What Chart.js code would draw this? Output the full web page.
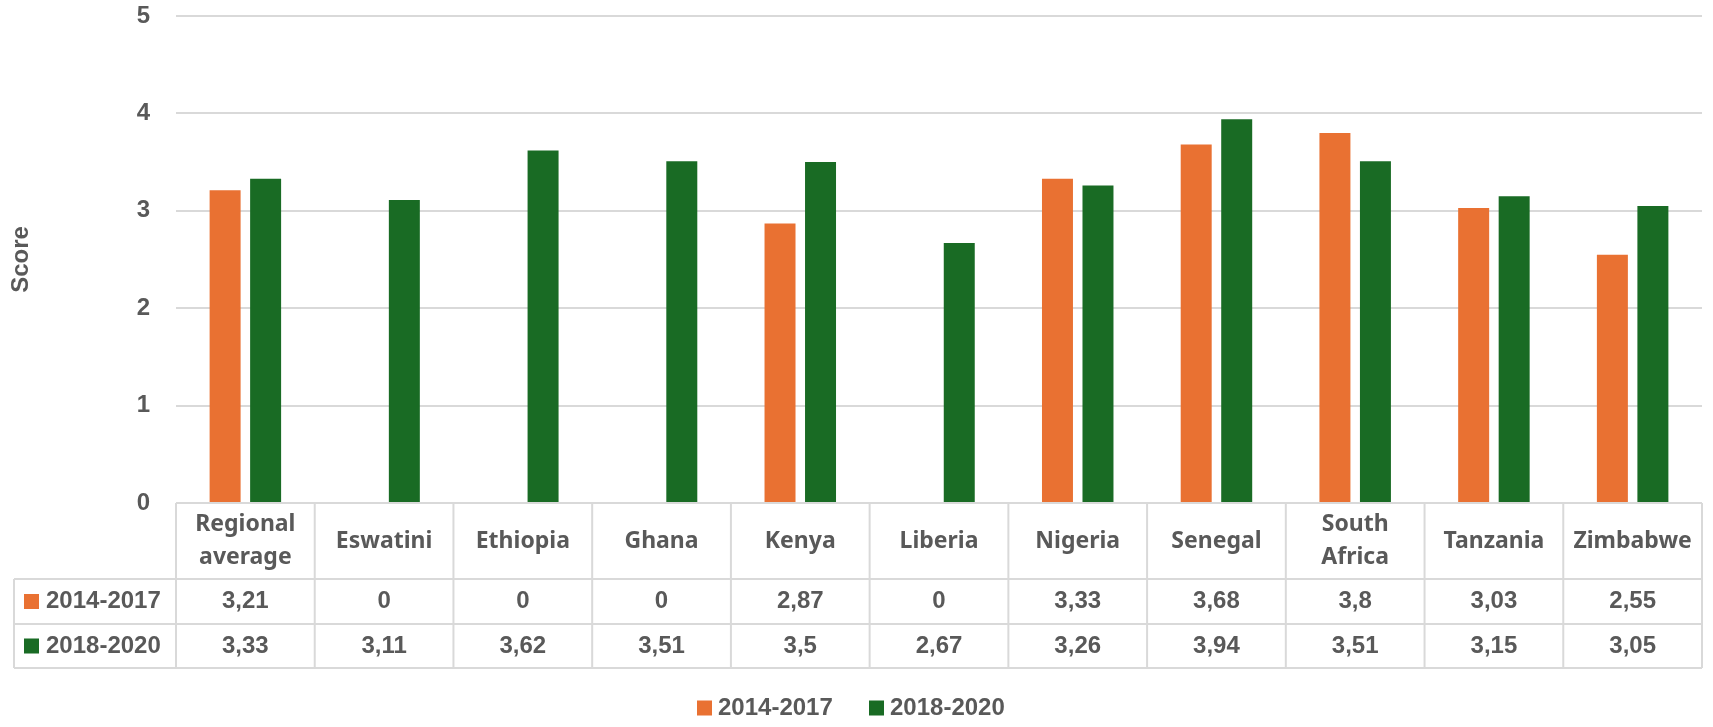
<!DOCTYPE html>
<html>
<head>
<meta charset="utf-8">
<script src="https://cdn.jsdelivr.net/npm/chart.js@4.4.1/dist/chart.umd.min.js"></script>
<style>
    body { margin: 0; background: #fff; }
    #chart { display: block; }
</style>
</head>
<body>
<canvas id="chart" width="1713" height="727"></canvas>
<script>
const categories = [['Regional', 'average'], 'Eswatini', 'Ethiopia', 'Ghana', 'Kenya', 'Liberia',
    'Nigeria', 'Senegal', ['South', 'Africa'], 'Tanzania', 'Zimbabwe'];
const seriesNames = ['2014-2017', '2018-2020'];
const values2014 = [3.21, 0, 0, 0, 2.87, 0, 3.33, 3.68, 3.8, 3.03, 2.55];
const values2018 = [3.33, 3.11, 3.62, 3.51, 3.5, 2.67, 3.26, 3.94, 3.51, 3.15, 3.05];
const yMin = 0;
const yMax = 5;
const yStep = 1;
const yTitle = 'Score';

const orange = '#E97132';
const green = '#196B24';
const textGray = '#595959';
const lineGray = '#D9D9D9';

function fmt(v) {
    return String(v).replace('.', ',');
}

// table under the plot + legend, drawn from the x scale
const tablePlugin = {
    id: 'dataTable',
    afterDraw(chart) {
        const ctx = chart.ctx;
        const x = chart.scales.x;
        const area = chart.chartArea;
        const colW = (area.right - area.left) / categories.length;
        const top = area.bottom;
        const headerBottom = top + 76;
        const row1Bottom = headerBottom + 45;
        const row2Bottom = row1Bottom + 44;
        const labelLeft = 14;
        const rows = [values2014, values2018];
        const colors = [orange, green];

        ctx.save();
        ctx.strokeStyle = lineGray;
        ctx.lineWidth = 2;
        ctx.beginPath();
        // horizontal lines
        ctx.moveTo(area.left, top); ctx.lineTo(area.right, top);
        [headerBottom, row1Bottom, row2Bottom].forEach(y => {
            ctx.moveTo(labelLeft, y); ctx.lineTo(area.right, y);
        });
        // vertical lines
        for (let i = 0; i <= categories.length; i++) {
            const xx = area.left + i * colW;
            ctx.moveTo(xx, top); ctx.lineTo(xx, row2Bottom);
        }
        ctx.moveTo(labelLeft, headerBottom); ctx.lineTo(labelLeft, row2Bottom);
        ctx.stroke();

        ctx.fillStyle = textGray;
        ctx.textAlign = 'center';
        ctx.textBaseline = 'middle';

        // header row with category names
        ctx.font = 'bold 23px "Noto Sans"';
        const headerMid = (top + headerBottom) / 2;
        categories.forEach((c, i) => {
            const cx = x.getPixelForValue(i);
            const lines = Array.isArray(c) ? c : [c];
            lines.forEach((l, j) => {
                const y = headerMid + (j - (lines.length - 1) / 2) * 33;
                ctx.fillText(l, cx, y);
            });
        });

        // value rows
        const rowMids = [(headerBottom + row1Bottom) / 2, (row1Bottom + row2Bottom) / 2];
        ctx.font = 'bold 24px "Liberation Sans"';
        rows.forEach((vals, r) => {
            vals.forEach((v, i) => {
                ctx.fillText(fmt(v), x.getPixelForValue(i), rowMids[r]);
            });
            ctx.fillStyle = colors[r];
            ctx.fillRect(24, rowMids[r] - 7.5, 15, 15);
            ctx.fillStyle = textGray;
            ctx.textAlign = 'left';
            ctx.fillText(seriesNames[r], 46, rowMids[r]);
            ctx.textAlign = 'center';
        });

        // legend
        const legY = 708;
        const legX = [697, 869];
        ctx.textAlign = 'left';
        seriesNames.forEach((name, r) => {
            ctx.fillStyle = colors[r];
            ctx.fillRect(legX[r], legY - 7.5, 15, 15);
            ctx.fillStyle = textGray;
            ctx.fillText(name, legX[r] + 21, legY);
        });
        ctx.restore();
    }
};

new Chart(document.getElementById('chart'), {
    type: 'bar',
    data: {
        labels: categories,
        datasets: [{
            label: seriesNames[0],
            data: values2014,
            backgroundColor: orange,
            borderWidth: 0,
            categoryPercentage: 0.584,
            barPercentage: 0.765
        }, {
            label: seriesNames[1],
            data: values2018,
            backgroundColor: green,
            borderWidth: 0,
            categoryPercentage: 0.584,
            barPercentage: 0.765
        }]
    },
    options: {
        responsive: false,
        devicePixelRatio: 1,
        animation: false,
        layout: {
            padding: { top: 16, right: 11, bottom: 224, left: 0 }
        },
        plugins: {
            legend: { display: false },
            tooltip: { enabled: false }
        },
        scales: {
            x: {
                display: false
            },
            y: {
                min: yMin,
                max: yMax,
                border: { display: false },
                grid: {
                    color: lineGray,
                    lineWidth: 2,
                    drawTicks: false
                },
                ticks: {
                    stepSize: yStep,
                    color: textGray,
                    padding: 26,
                    font: { family: 'Liberation Sans', size: 24, weight: 'bold' }
                },
                title: {
                    display: true,
                    text: yTitle,
                    color: textGray,
                    padding: { top: 7, bottom: 0 },
                    font: { family: 'Liberation Sans', size: 24, weight: 'bold' }
                },
                afterFit(scale) {
                    scale.width = 176;
                    scale.paddingTop = 0;
                    scale.paddingBottom = 0;
                }
            }
        }
    },
    plugins: [tablePlugin]
});
</script>
</body>
</html>
